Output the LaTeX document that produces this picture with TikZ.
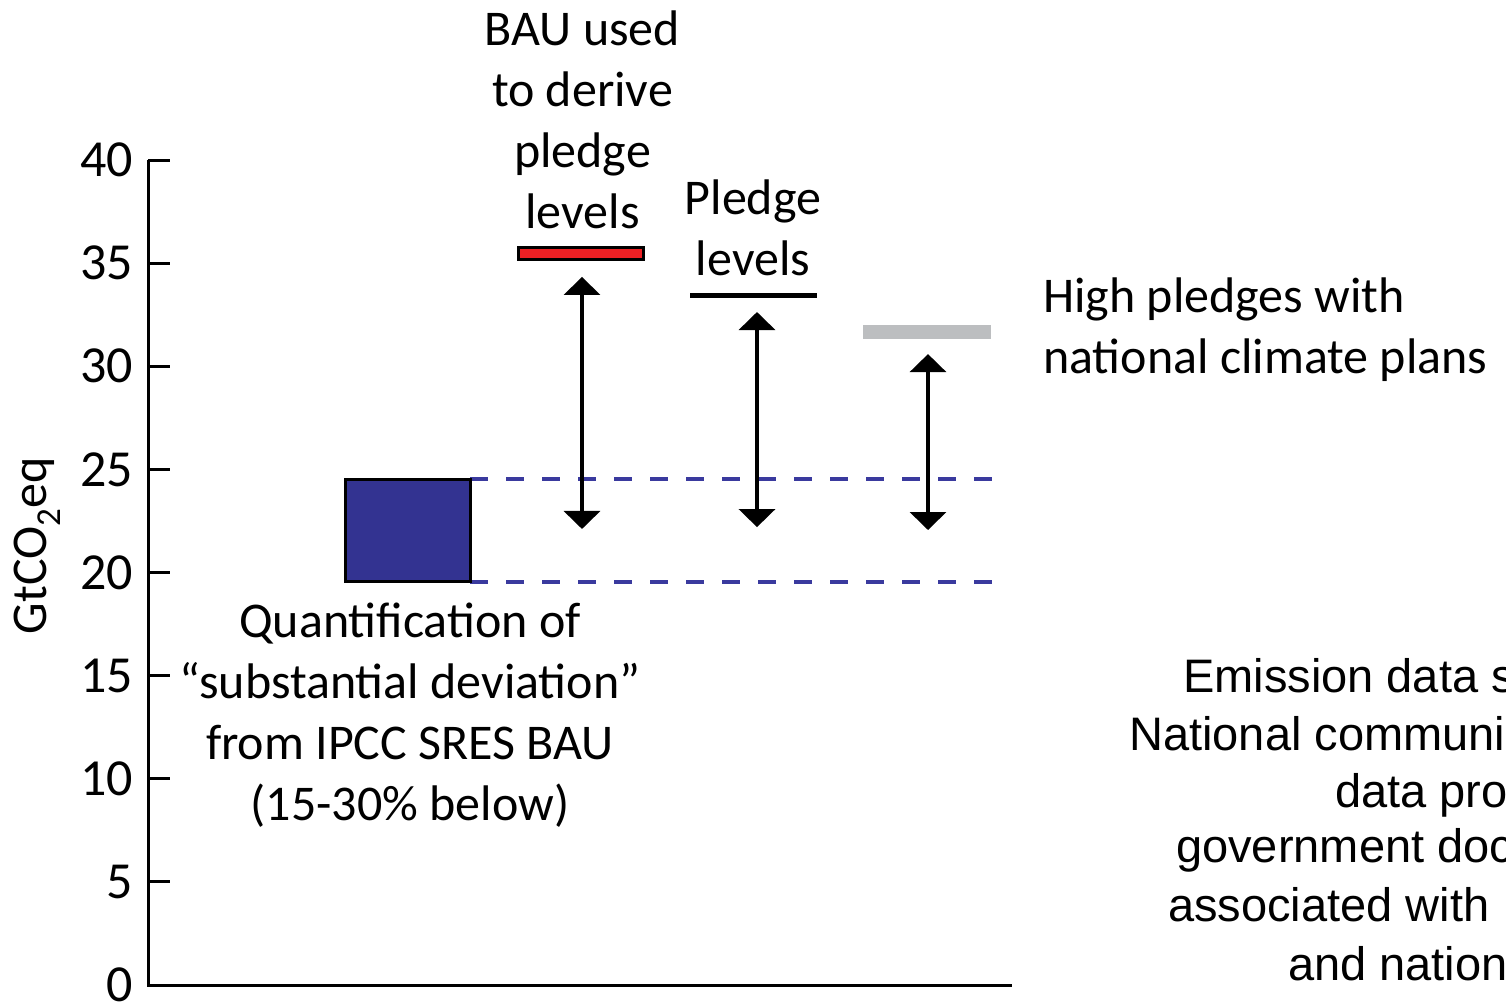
\documentclass[tikz,border=0pt]{standalone}
\usepackage{fontspec}
\setmainfont{Carlito}
\newfontfamily\arialfont{Liberation Sans}
\usetikzlibrary{arrows.meta}
\definecolor{sresblue}{RGB}{51,51,145}
\definecolor{dashblue}{RGB}{58,58,158}
\definecolor{baured}{RGB}{237,32,36}
\definecolor{highgrey}{RGB}{188,190,192}
\begin{document}
\begin{tikzpicture}[x=1pt,y=20.625pt,
    lbl/.style={font=\fontsize{50}{61}\selectfont,inner sep=0pt},
    srctext/.style={font=\arialfont\fontsize{47}{57}\selectfont,inner sep=0pt,anchor=base west},
    twoway/.style={line width=3.5pt,{Triangle[width=36pt,length=18pt]}-{Triangle[width=36pt,length=18pt]}},
    sresline/.style={dashblue,line width=3.5pt,dash pattern=on 18pt off 18pt}]
    \useasboundingbox (-148,-1.018) rectangle (1358,47.758);

    \draw[line width=3pt] (0,40) -- (0,0) -- (864,0);
    \foreach \v in {0,5,...,40} {
        \draw[line width=3pt] (0,\v) -- (22,\v);
        \node[lbl,font=\fontsize{52}{61}\selectfont,anchor=east] (tick\v) at (-15,\v) {\v};
    }
    \node[lbl,font=\fontsize{50}{60}\selectfont,rotate=90] (ylab) at (-111,21.3) {GtCO\textsubscript{2}eq};

    \draw[sresline] (322,24.53) -- (844,24.53);
    \draw[sresline] (322,19.54) -- (844,19.54);
    \draw[line width=3pt,fill=sresblue] (197,19.54) rectangle (322,24.53);

    \draw[line width=3pt,fill=baured] (370,35.2) rectangle (495,35.75);
    \draw[line width=5pt] (542,33.45) -- (669,33.45);
    \fill[highgrey] (715,31.32) rectangle (843,32.0);

    \coordinate (bautop) at (434,34.33);
    \coordinate (baubot) at (434,22.11);
    \coordinate (pledgetop) at (609,32.63);
    \coordinate (pledgebot) at (609,22.20);
    \coordinate (hightop) at (780,30.59);
    \coordinate (highbot) at (780,22.06);
    \draw[twoway] (bautop) -- (baubot);
    \draw[twoway] (pledgetop) -- (pledgebot);
    \draw[twoway] (hightop) -- (highbot);

    \node[lbl,align=center,anchor=base] (baulbl) at (434.5,36.70) {BAU used\\to derive\\pledge\\levels};
    \node[lbl,align=center,anchor=base] (pledgelbl) at (605,34.42) {Pledge\\levels};
    \node[lbl,align=left,anchor=base west] (highlbl) at (895,29.67) {High pledges with\\national climate plans};
    \node[lbl,align=center,anchor=base] (sreslbl) at (262,7.99) {Quantification of\\“substantial deviation”\\from IPCC SRES BAU\\(15-30\% below)};

    \node[srctext] (src1) at (1035,14.16) {Emission data s};
    \node[srctext] (src2) at (981,11.39) {National communi};
    \node[srctext] (src3) at (1187,8.63) {data pro};
    \node[srctext] (src4) at (1028,5.92) {government doc};
    \node[srctext] (src5) at (1020,3.10) {associated with};
    \node[srctext] (src6) at (1140,0.24) {and nation};
\end{tikzpicture}
\end{document}
